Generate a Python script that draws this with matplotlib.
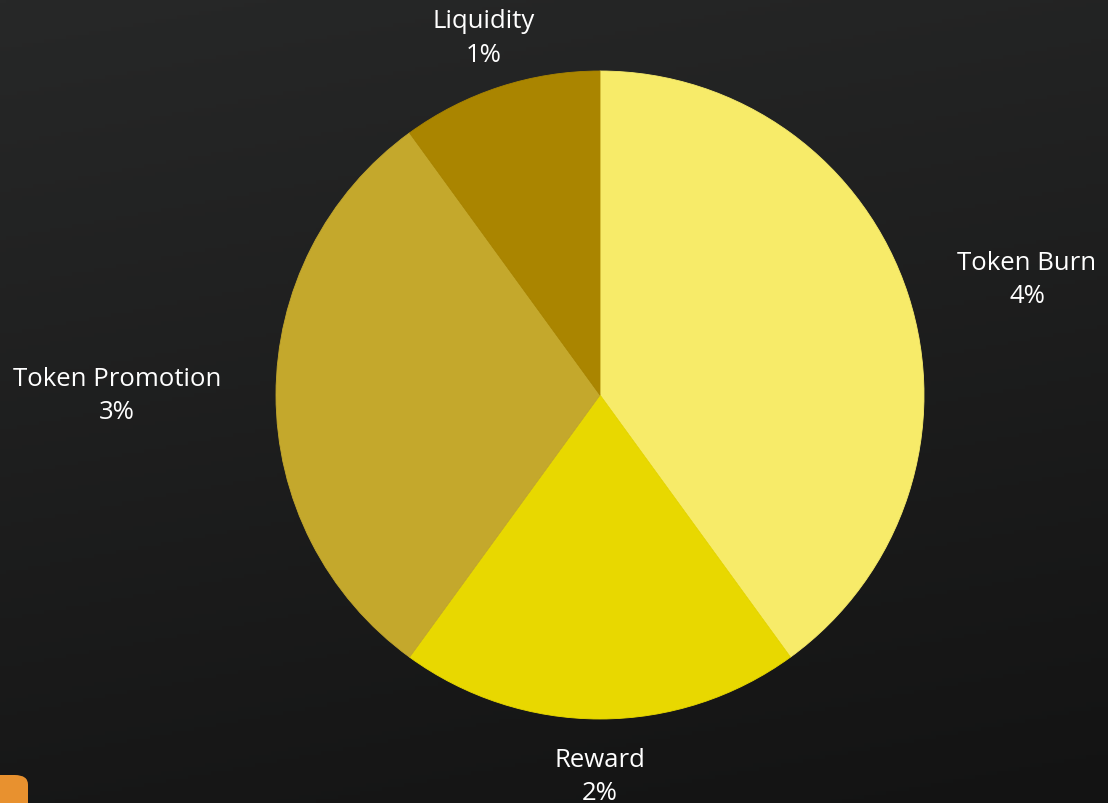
import numpy as np
import matplotlib
matplotlib.use("Agg")
import matplotlib.pyplot as plt
from matplotlib.patches import FancyBboxPatch

labels = ["Token Burn", "Reward", "Token Promotion", "Liquidity"]
values = [4, 2, 3, 1]
pct_labels = ["4%", "2%", "3%", "1%"]
colors = ["#F7EB69", "#E8D800", "#C4A82C", "#AA8500"]
label_dist = [1.16, 1.085, 1.17, 1.065]

W, H = 1108, 804
fig = plt.figure(figsize=(W / 100, H / 100), dpi=100)

# background gradient
bg = fig.add_axes([0, 0, 1, 1], zorder=0)
yy, xx = np.mgrid[0:1:200j, 0:1:200j]
t = 0.8 * yy + 0.2 * xx
top = np.array([0x27, 0x28, 0x28]) / 255
bot = np.array([0x13, 0x13, 0x13]) / 255
img = top[None, None, :] * (1 - t[..., None]) + bot[None, None, :] * t[..., None]
bg.imshow(img, extent=[0, 1, 0, 1], aspect="auto", origin="upper")
bg.axis("off")

# orange blob bottom-left
blob = FancyBboxPatch((-30 / W, -20 / H), 58 / W, 48 / H,
                      boxstyle="round,pad=0,rounding_size=0.012",
                      transform=fig.transFigure, facecolor="#E8912F",
                      edgecolor="none", zorder=1)
fig.patches.append(blob)

cx, cy, R = 600, 396, 324
ax = fig.add_axes([(cx - R) / W, 1 - (cy + R) / H, 2 * R / W, 2 * R / H], zorder=2)
ax.set_facecolor("none")
wedges, _ = ax.pie(values, colors=colors, startangle=90, counterclock=False,
                   radius=1, wedgeprops=dict(linewidth=0.6))
for w, col in zip(wedges, colors):
    w.set_edgecolor(col)
ax.set_xlim(-1, 1)
ax.set_ylim(-1, 1)
ax.axis("off")

for w, lab, pct, k in zip(wedges, labels, pct_labels, label_dist):
    ang = np.deg2rad((w.theta1 + w.theta2) / 2)
    c, s = np.cos(ang), np.sin(ang)
    ha = "left" if c > 0.5 else ("right" if c < -0.5 else "center")
    va = "bottom" if s > 0.5 else ("top" if s < -0.5 else "center")
    x = k * c
    if ha == "center" and abs(c) > 0.1:
        x += 0.03 * np.sign(c)
    ax.text(x, k * s, f"{lab}\n{pct}", ha=ha, va=va, multialignment="center",
            color="white", fontsize=18.5, family="Open Sans", linespacing=1.45,
            clip_on=False)

fig.savefig("out.png", dpi=100, facecolor="#1e1e1e")
